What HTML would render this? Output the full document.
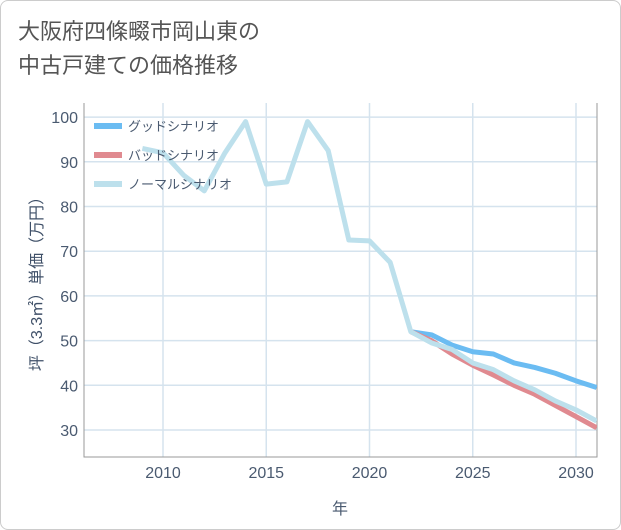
<!DOCTYPE html>
<html><head><meta charset="utf-8"><style>
body{margin:0;background:#fff;}
#wrap{position:relative;width:619px;height:528px;border:1px solid #ccc;border-radius:8px;background:#fff;overflow:hidden;font-family:"Liberation Sans","Noto Sans CJK JP",sans-serif;}
#title{position:absolute;left:17px;top:14px;font-size:22px;line-height:34px;color:#555;}
svg text{font-family:"Liberation Sans","Noto Sans CJK JP",sans-serif;}
</style></head><body>
<div id="wrap">
<div id="title">大阪府四條畷市岡山東の<br>中古戸建ての価格推移</div>
<svg id="chart" width="621" height="530" style="position:absolute;left:-1px;top:-1px"></svg>
</div>
<script>
const years=[2009,2010,2011,2012,2013,2014,2015,2016,2017,2018,2019,2020,2021,2022,2023,2024,2025,2026,2027,2028,2029,2030,2031];
const normal=[93,92,87,83.5,92,99,85,85.5,99,92.5,72.5,72.3,67.5,52,49.5,48,45,43.5,41,39,36.5,34.5,32];
const goodYears=[2022,2023,2024,2025,2026,2027,2028,2029,2030,2031];
const good=[52,51.3,49,47.5,47,45,44,42.7,41,39.5];
const bad=[52,50,47,44.5,42.3,40,38,35.5,33,30.5];
const xTicks=[2010,2015,2020,2025,2030];
const yTicks=[30,40,50,60,70,80,90,100];
const L=84,R=597,T=103,B=457;
const x=v=>163+(v-2010)*20.65;
const y=v=>430-(v-30)*4.47;
const NS='http://www.w3.org/2000/svg';
const svg=document.getElementById('chart');
function mk(t,a,p){const e=document.createElementNS(NS,t);for(const k in a)e.setAttribute(k,a[k]);(p||svg).appendChild(e);return e;}
const clip=mk('clipPath',{id:'pc'});mk('rect',{x:L,y:T,width:R-L,height:B-T},clip);
for(const t of xTicks){const l=mk('line',{x1:x(t),x2:x(t),y1:T,y2:B,stroke:'#d5e3ee','stroke-width':1.5});

const tx=mk('text',{x:x(t),y:478,'text-anchor':'middle','font-size':16,fill:'#4a5a70'});tx.textContent=t;
}
for(const t of yTicks){const l=mk('line',{x1:L,x2:R,y1:y(t),y2:y(t),stroke:'#d5e3ee','stroke-width':1.5});

const tx=mk('text',{x:78,y:y(t)+6,'text-anchor':'end','font-size':16,fill:'#4a5a70'});tx.textContent=t;
}
const ax=mk('path',{d:`M${L},${T}V${B}H${R}V${T}`,fill:'none',stroke:'#999','stroke-width':1});

function line(xs,vs,c,n){const p=mk('polyline',{points:xs.map((v,i)=>x(v)+','+y(vs[i])).join(' '),fill:'none',stroke:c,'stroke-width':5,'stroke-linejoin':'round','clip-path':'url(#pc)'});
}
line(goodYears,good,'#6bbcf2','good-scenario-line');
line(goodYears,bad,'#e08a90','bad-scenario-line');
line(years,normal,'#bde0ec','normal-scenario-line');
const leg=[['グッドシナリオ','#6bbcf2'],['バッドシナリオ','#e08a90'],['ノーマルシナリオ','#bde0ec']];
leg.forEach((d,i)=>{const g=mk('g',{});
mk('line',{x1:94,x2:122,y1:126+i*29,y2:126+i*29,stroke:d[1],'stroke-width':6},g);
const t=mk('text',{x:128,y:131+i*29,'font-size':13,fill:'#4a5a70'},g);t.textContent=d[0];});
const xt=mk('text',{x:340,y:514,'text-anchor':'middle','font-size':16,fill:'#4a5a70'});xt.textContent='年';

const yt=mk('text',{x:0,y:0,transform:'translate(42,280) rotate(-90)','text-anchor':'middle','font-size':16,fill:'#3f5068'});yt.textContent='坪（3.3㎡）単価（万円）';

</script>
</body></html>
